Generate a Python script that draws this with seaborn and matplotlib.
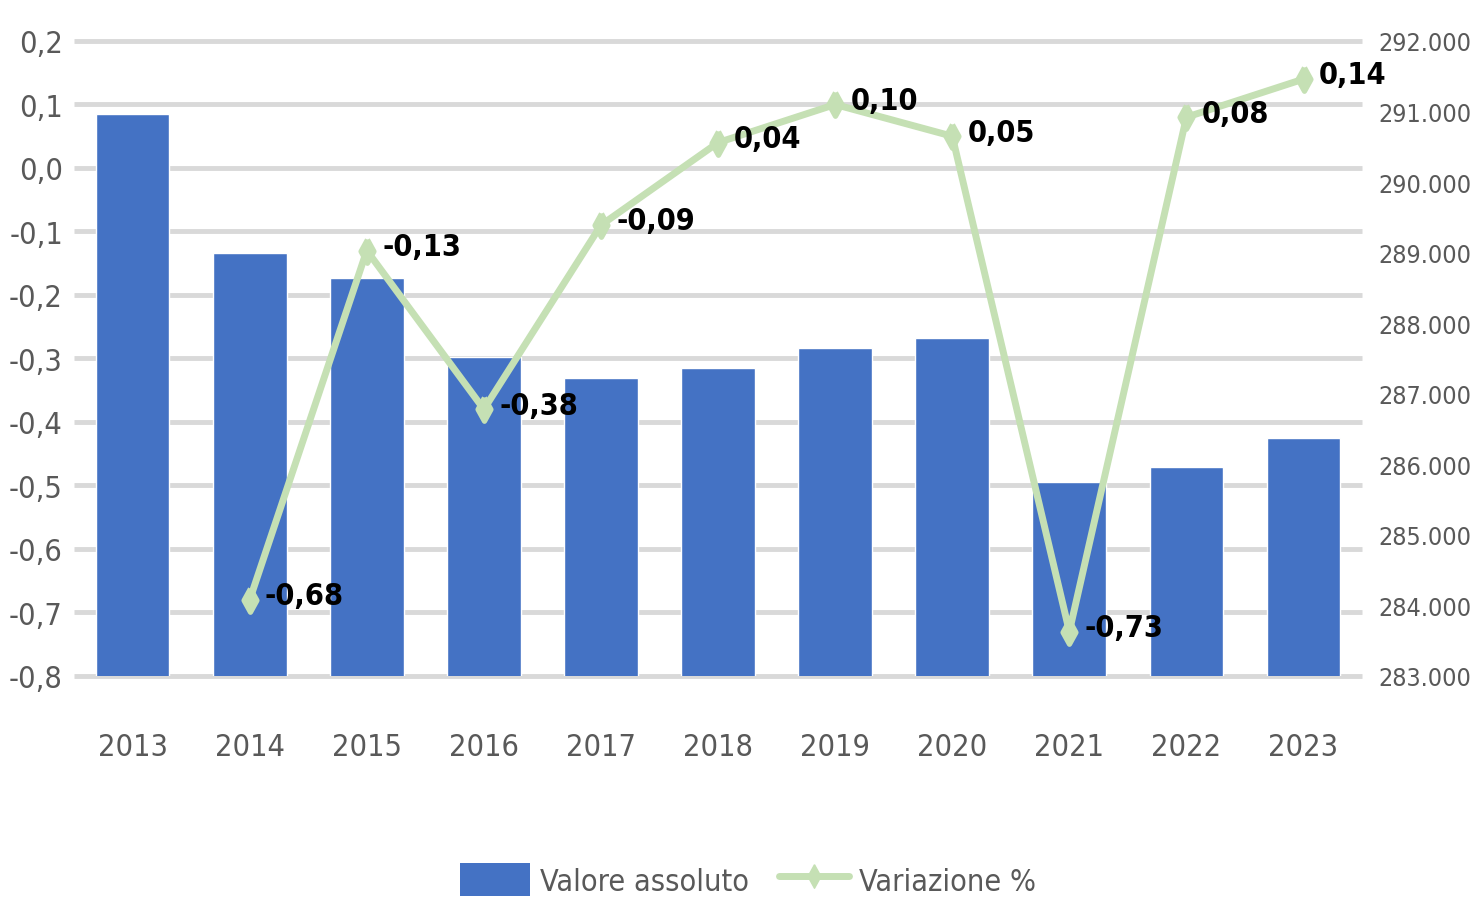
import numpy as np
import pandas as pd
import matplotlib
matplotlib.use("Agg")
import matplotlib.pyplot as plt
from matplotlib.ticker import FuncFormatter, MultipleLocator
from matplotlib.patches import Patch
from matplotlib.lines import Line2D
import seaborn as sns

# dati
anni = ["2013", "2014", "2015", "2016", "2017", "2018", "2019", "2020", "2021", "2022", "2023"]
valore_assoluto = [290960, 288990, 288640, 287520, 287220, 287360, 287650, 287790, 285750, 285960, 286370]
variazione = [None, -0.68, -0.13, -0.38, -0.09, 0.04, 0.10, 0.05, -0.73, 0.08, 0.14]
etichette = ["", "-0,68", "-0,13", "-0,38", "-0,09", "0,04", "0,10", "0,05", "-0,73", "0,08", "0,14"]

df = pd.DataFrame({"anno": anni, "valore": valore_assoluto, "var": variazione})

sns.set_style("white")
plt.rcParams["font.family"] = ["DejaVu Sans"]
plt.rcParams["font.stretch"] = "condensed"

blu = "#4472c4"
verde = "#c5e0b4"
grigio = "#595959"
diamante = [(0, 1), (0.55, 0), (0, -1), (-0.55, 0), (0, 1)]
fs = 22

fig = plt.figure(figsize=(14.81, 9.03), dpi=100)
ax = fig.add_axes([0.05, 0.2503, 0.8697, 0.7032])

# barre (asse destro)
sns.barplot(data=df, x="anno", y="valore", color=blu, width=0.63, ax=ax,
            saturation=1, zorder=2)
ax.set_ylim(283000, 292000)
ax.hlines(np.linspace(283000, 292000, 11), -0.5, 10.5, color="#d9d9d9",
          linewidth=3.5, zorder=0, clip_on=False)
ax.set_xlabel("")
ax.set_ylabel("")
ax.set_xlim(-0.5, 10.5)

# linea (asse sinistro)
ax2 = ax.twinx()
sns.pointplot(data=df, x="anno", y="var", color=verde, errorbar=None, ax=ax2,
              marker=diamante, markersize=17, linewidth=5)
ax2.set_ylim(-0.8, 0.2)
ax2.yaxis.set_major_locator(MultipleLocator(0.1))
ax2.yaxis.set_major_formatter(FuncFormatter(lambda v, p: f"{v:.1f}".replace(".", ",").replace("-0,0", "0,0")))
ax2.yaxis.tick_left()
ax2.tick_params(axis="y", length=0, labelsize=fs, labelcolor=grigio, pad=8)
ax2.set_xlim(-0.5, 10.5)
ax2.set_xlabel("")
ax2.set_ylabel("")

ax.yaxis.tick_right()
ax.yaxis.set_major_locator(MultipleLocator(1000))
ax.yaxis.set_major_formatter(FuncFormatter(lambda v, p: f"{int(v):,}".replace(",", ".")))
ax.tick_params(axis="y", length=0, labelsize=18, labelcolor=grigio, pad=12,
               labelleft=False, labelright=True)
ax.tick_params(axis="x", length=0, labelsize=fs, labelcolor=grigio, pad=40)

for i, (v, t) in enumerate(zip(variazione, etichette)):
    if v is None:
        continue
    ax2.annotate(t, (i, v), xytext=(11, 3), textcoords="offset points",
                 ha="left", va="center", fontsize=fs, fontweight="bold", color="black")

for a in (ax, ax2):
    for s in a.spines.values():
        s.set_visible(False)

handles = [Patch(facecolor=blu, edgecolor="none"),
           Line2D([], [], color=verde, linewidth=5, marker=diamante, markersize=17)]
fig.legend(handles, ["Valore assoluto", "Variazione %"], loc="center",
           bbox_to_anchor=(0.505, 0.025), ncol=2, frameon=False, fontsize=fs,
           labelcolor=grigio, handlelength=2.3, handleheight=1.3, columnspacing=1.0,
           handletextpad=0.3)

fig.savefig("out.png", dpi=100)
